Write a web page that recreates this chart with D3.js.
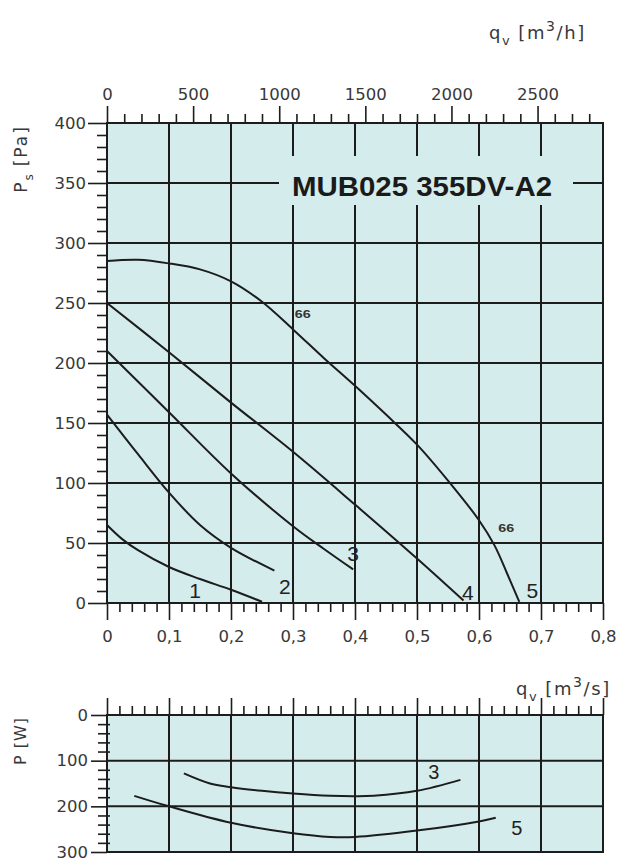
<!DOCTYPE html>
<html><head><meta charset="utf-8">
<script src="https://cdn.jsdelivr.net/npm/d3@7"></script>
<style>
html,body{margin:0;padding:0;background:#fff;}
svg{display:block;font-family:"DejaVu Sans",sans-serif;}
</style></head>
<body>
<svg id="c" width="622" height="860"></svg>
<script>
// ---------- DATA ----------
const qTicks = [0,0.1,0.2,0.3,0.4,0.5,0.6,0.7,0.8];           // m3/s
const qhTicks = [0,500,1000,1500,2000,2500];                  // m3/h
const psTicks = [0,50,100,150,200,250,300,350,400];           // Pa
const pTicks = [0,100,200,300];                               // W
const title = "MUB025 355DV-A2";

const curve1 = [[0,65],[0.025,53],[0.05,44],[0.1,30],[0.15,20],[0.2,11],[0.25,1]];
const curve2 = [[0,157],[0.05,124],[0.1,92],[0.15,65],[0.2,46],[0.27,27]];
const curve3 = [[0,210],[0.1,159],[0.2,108],[0.3,64],[0.35,45],[0.397,28]];
const curve4 = [[0,250],[0.1,209],[0.2,167],[0.3,126],[0.4,82],[0.5,37],[0.575,2]];
const curve5 = [[0,285],[0.05,286],[0.1,283],[0.15,278],[0.2,268],[0.25,251],[0.3,228],[0.35,204],[0.4,181],[0.45,157],[0.5,132],[0.55,102],[0.6,69],[0.625,48],[0.645,25],[0.665,1]];
const curveLabels = [["1",0.142,4],["2",0.287,7.5],["3",0.397,35],["4",0.582,2.5],["5",0.686,4]];
const effLabels = [["66",0.303,237.5],["66",0.631,59]];

const power3 = [[0.124,128],[0.166,150],[0.2,158],[0.25,166],[0.3,172],[0.36,177],[0.4,178],[0.43,177],[0.5,166],[0.57,142]];
const power5 = [[0.044,177],[0.1,200],[0.2,236],[0.3,259],[0.36,267],[0.4,267],[0.5,253],[0.6,233],[0.627,225]];
const powerLabels = [["3",0.527,140],["5",0.661,263]];

// ---------- LAYOUT ----------
const L = 107, R = 603, T = 123, B = 603, T2 = 715, B2 = 852;
const bg = "#d5ecec", ink = "#1c1c1c", txt = "#383838";
const tickFont = "DejaVu Sans, sans-serif";
const svg = d3.select("#c");

const x = d3.scaleLinear().domain([0,0.8]).range([L,R]);
const xh = d3.scaleLinear().domain([0,0.8*3600]).range([L,R]);
const y = d3.scaleLinear().domain([0,400]).range([B,T]);
const yp = d3.scaleLinear().domain([0,300]).range([T2,B2]);

const commaFmt = d => d===0 ? "0" : d3.format(".1f")(d).replace(".",",");
const minor = (step, max, skip) => d3.range(0, max+1e-9, step).filter(v => Math.abs(v/skip - Math.round(v/skip))>1e-6);

function styleAxis(g){
  g.select(".domain").remove();
  g.selectAll(".tick line").attr("stroke",ink).attr("stroke-width",1.6);
  g.selectAll(".tick text").attr("fill",txt).style("font-size","16.5px").style("font-family",tickFont);
}

// ---------- MAIN PLOT ----------
svg.append("rect").attr("x",L).attr("y",T).attr("width",R-L).attr("height",B-T).attr("fill",bg);
const grid = svg.append("g").attr("stroke",ink).attr("stroke-width",2);
qTicks.slice(1,-1).forEach(q => grid.append("line").attr("x1",x(q)).attr("x2",x(q)).attr("y1",T).attr("y2",B));
psTicks.slice(1,-1).forEach(p => grid.append("line").attr("x1",L).attr("x2",R).attr("y1",y(p)).attr("y2",y(p)));
// title box that interrupts the grid
svg.append("rect").attr("x",279).attr("y",156).attr("width",294).attr("height",49).attr("fill",bg);
svg.append("text").attr("x",292).attr("y",196).attr("textLength",260).attr("lengthAdjust","spacingAndGlyphs")
  .style("font-family","Liberation Sans, Arial, sans-serif")
  .style("font-size","28.5px").style("font-weight","bold").attr("fill","#1a1a1a").text(title);

// axes main
styleAxis(svg.append("g").attr("transform",`translate(0,${B})`).call(d3.axisBottom(x).tickValues(qTicks).tickSize(17).tickPadding(10).tickFormat(commaFmt)));
styleAxis(svg.append("g").attr("transform",`translate(0,${B})`).call(d3.axisBottom(x).tickValues(minor(0.02,0.8,0.1)).tickSize(9).tickFormat("")));
styleAxis(svg.append("g").attr("transform",`translate(0,${T})`).call(d3.axisTop(xh).tickValues(qhTicks).tickSize(17).tickPadding(6).tickFormat(d3.format("d"))));
styleAxis(svg.append("g").attr("transform",`translate(0,${T})`).call(d3.axisTop(xh).tickValues(minor(100,2800,500)).tickSize(9).tickFormat("")));
styleAxis(svg.append("g").attr("transform",`translate(${L},0)`).call(d3.axisLeft(y).tickValues(psTicks).tickSize(19).tickPadding(2)));
styleAxis(svg.append("g").attr("transform",`translate(${L},0)`).call(d3.axisLeft(y).tickValues(minor(10,400,50)).tickSize(10).tickFormat("")));
svg.append("rect").attr("x",L).attr("y",T).attr("width",R-L).attr("height",B-T).attr("fill","none").attr("stroke",ink).attr("stroke-width",2);

// curves
const line = d3.line().x(d=>x(d[0])).y(d=>y(d[1])).curve(d3.curveCatmullRom.alpha(0.5));
[curve1,curve2,curve3,curve4,curve5].forEach(c => svg.append("path").attr("d",line(c)).attr("fill","none").attr("stroke",ink).attr("stroke-width",2));
curveLabels.forEach(([t,q,p]) => svg.append("text").attr("x",x(q)).attr("y",y(p)).attr("text-anchor","middle")
  .style("font-family","Liberation Sans, Arial, sans-serif").style("font-size","21px").attr("fill","#222").text(t));
effLabels.forEach(([t,q,p]) => svg.append("text").attr("x",x(q)).attr("y",y(p)).attr("textLength",16).attr("lengthAdjust","spacingAndGlyphs")
  .style("font-family","Liberation Sans, Arial, sans-serif").style("font-size","11px").style("font-weight","bold").attr("fill","#333").text(t));

// axis titles
function qLabel(x0, y0, unit){
  const t = svg.append("text").attr("x",x0).attr("y",y0).style("font-size","18px").style("letter-spacing","1.6px").attr("fill",txt);
  t.append("tspan").text("q");
  t.append("tspan").attr("dy",6).style("font-size","13px").text("v");
  t.append("tspan").attr("dy",-6).attr("dx",7).text("[m");
  t.append("tspan").attr("dy",-8).style("font-size","14px").text("3");
  t.append("tspan").attr("dy",8).text("/"+unit+"]");
}
qLabel(489, 39, "h");
qLabel(516, 695, "s");
const ps = svg.append("text").attr("transform","translate(27,159) rotate(-90)").attr("text-anchor","middle")
  .style("font-size","17px").style("letter-spacing","2px").attr("fill",txt);
ps.append("tspan").text("P");
ps.append("tspan").attr("dy",6).style("font-size","12px").text("s");
ps.append("tspan").attr("dy",-6).attr("dx",6).text("[Pa]");

// ---------- POWER PLOT ----------
svg.append("rect").attr("x",L).attr("y",T2).attr("width",R-L).attr("height",B2-T2).attr("fill",bg);
const grid2 = svg.append("g").attr("stroke",ink).attr("stroke-width",2);
qTicks.slice(1,-1).forEach(q => grid2.append("line").attr("x1",x(q)).attr("x2",x(q)).attr("y1",T2).attr("y2",B2));
pTicks.slice(1,-1).forEach(p => grid2.append("line").attr("x1",L).attr("x2",R).attr("y1",yp(p)).attr("y2",yp(p)));
styleAxis(svg.append("g").attr("transform",`translate(0,${T2})`).call(d3.axisTop(x).tickValues(qTicks).tickSize(17).tickFormat("")));
styleAxis(svg.append("g").attr("transform",`translate(0,${T2})`).call(d3.axisTop(x).tickValues(minor(0.02,0.8,0.1)).tickSize(9).tickFormat("")));
styleAxis(svg.append("g").attr("transform",`translate(${L},0)`).call(d3.axisLeft(yp).tickValues(pTicks).tickSize(16).tickPadding(3)));
const gl2m = svg.append("g").attr("transform",`translate(${L},0)`).call(d3.axisLeft(yp).tickValues(minor(20,300,100)).tickSize(9).tickFormat(""));
styleAxis(gl2m);
gl2m.selectAll(".tick line").attr("x2",-9).attr("x1",3);
svg.append("rect").attr("x",L).attr("y",T2).attr("width",R-L).attr("height",B2-T2).attr("fill","none").attr("stroke",ink).attr("stroke-width",2);

const line2 = d3.line().x(d=>x(d[0])).y(d=>yp(d[1])).curve(d3.curveCatmullRom.alpha(0.5));
[power3,power5].forEach(c => svg.append("path").attr("d",line2(c)).attr("fill","none").attr("stroke",ink).attr("stroke-width",2));
powerLabels.forEach(([t,q,p]) => svg.append("text").attr("x",x(q)).attr("y",yp(p)).attr("text-anchor","middle")
  .style("font-family","Liberation Sans, Arial, sans-serif").style("font-size","20px").attr("fill","#222").text(t));

svg.append("text").attr("transform","translate(26,741) rotate(-90)").attr("text-anchor","middle")
  .style("font-size","16px").style("letter-spacing","1px").attr("fill",txt).text("P [W]");
</script>
</body></html>
